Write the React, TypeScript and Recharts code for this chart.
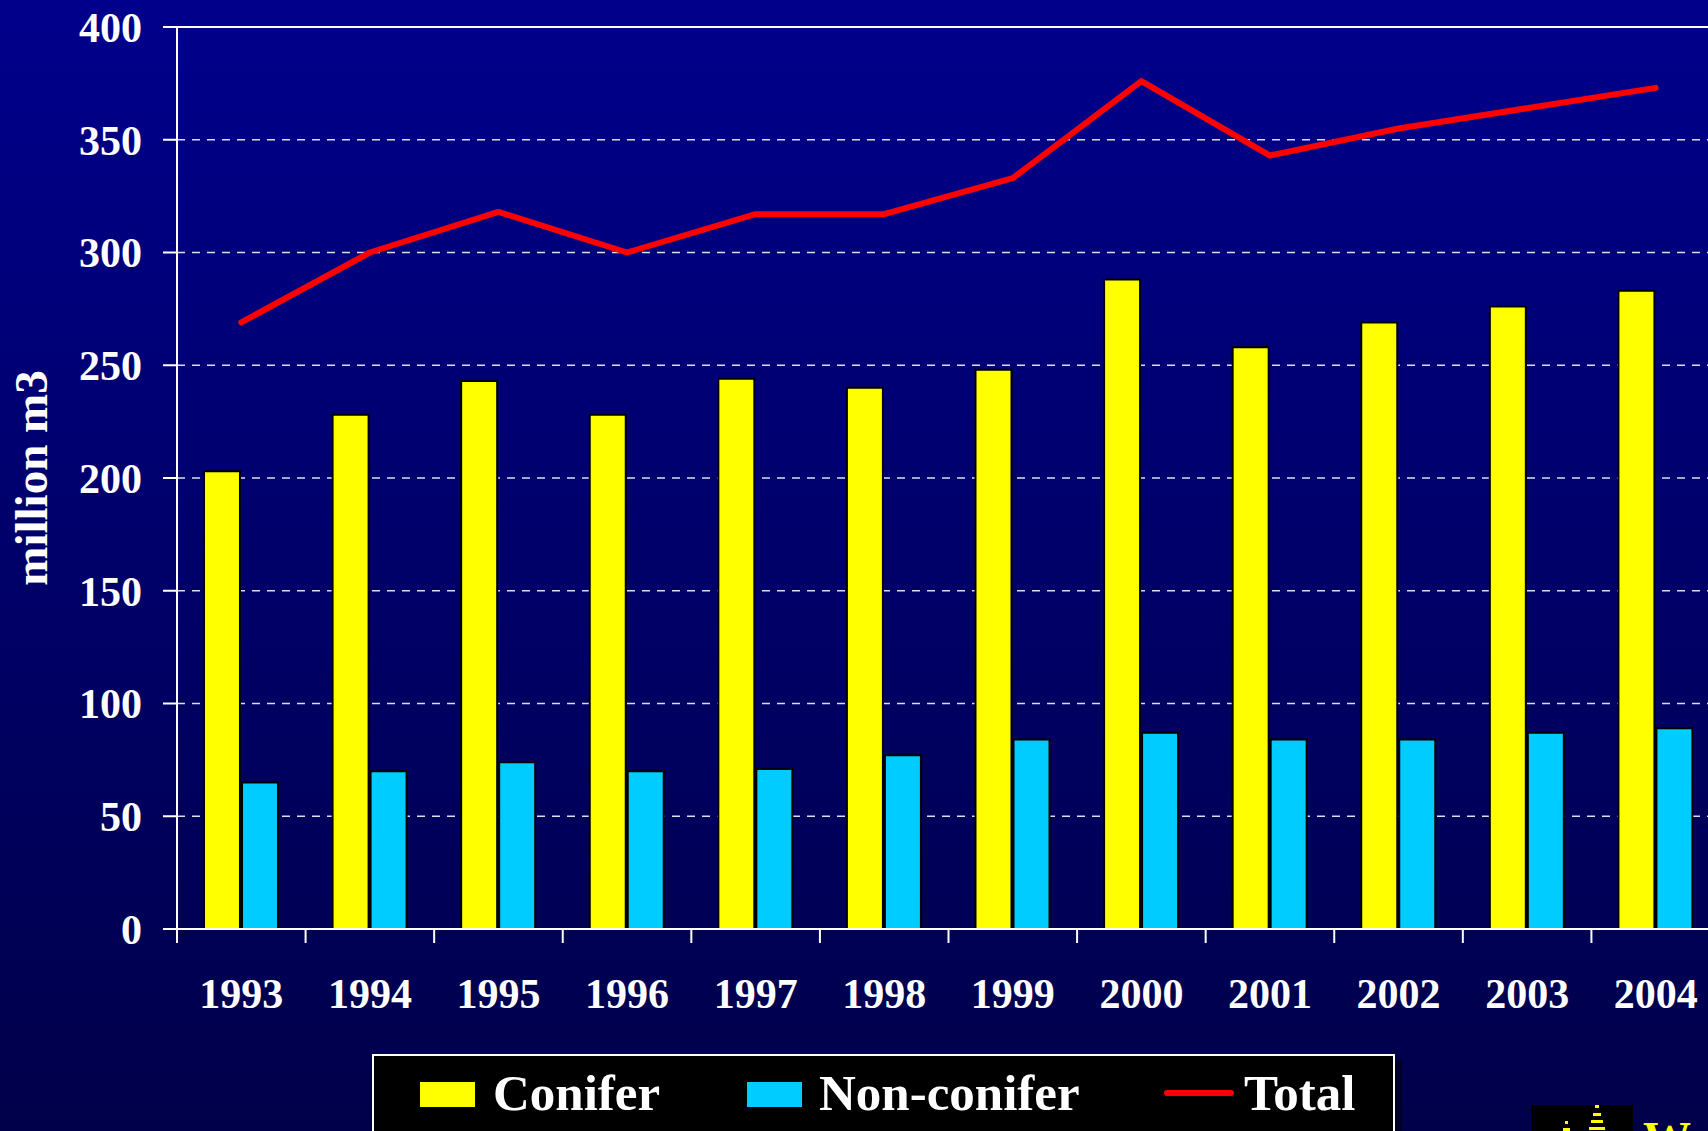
import React from 'react'
import { ComposedChart, Bar, Line, XAxis, YAxis, CartesianGrid, ReferenceLine } from 'recharts'

const years = ['1993', '1994', '1995', '1996', '1997', '1998', '1999', '2000', '2001', '2002', '2003', '2004']
const conifer = [203, 228, 243, 228, 244, 240, 248, 288, 258, 269, 276, 283]
const nonConifer = [65, 70, 74, 70, 71, 77, 84, 87, 84, 84, 87, 89]
const total = [269, 300, 318, 300, 317, 317, 333, 376, 343, 355, 364, 373]
const yTicks = [0, 50, 100, 150, 200, 250, 300, 350, 400]

const data = years.map((year, i) => ({
  year,
  conifer: conifer[i],
  nonConifer: nonConifer[i],
  total: total[i],
}))

const FONT = "'Liberation Serif', 'Times New Roman', serif"
const YELLOW = '#ffff00'
const CYAN = '#00ccff'
const RED = '#ff0000'

// plot geometry (the plot runs past the right edge of the slide, as in the original)
const CHART_W = 1740
const CHART_H = 1131
const Y_AXIS_W = 177
const MARGIN = { top: 27, right: 20, bottom: 0, left: 0 }
const BAND = (CHART_W - MARGIN.left - MARGIN.right - Y_AXIS_W) / years.length

const legendItems = [
  { label: 'Conifer', kind: 'box', color: YELLOW, swatchX: 46, textX: 119 },
  { label: 'Non-conifer', kind: 'box', color: CYAN, swatchX: 373, textX: 445 },
  { label: 'Total', kind: 'line', color: RED, swatchX: 793, textX: 870 },
]

function YearTick(props: any) {
  const { x, y, payload } = props
  const left = x - BAND / 2
  return (
    <g>
      <line x1={left} y1={y} x2={left} y2={y + 14} stroke="#ffffff" strokeWidth={2} />
      <text x={x} y={y + 79} textAnchor="middle" fill="#ffffff" fontFamily={FONT} fontWeight="bold" fontSize={42}>
        {payload.value}
      </text>
    </g>
  )
}

function LegendBox() {
  return (
    <div
      style={{
        position: 'absolute',
        left: 372,
        top: 1054,
        width: 1023,
        height: 90,
        boxSizing: 'border-box',
        background: '#000000',
        border: '2px solid #ffffff',
        borderBottom: 'none',
        boxShadow: '7px 5px 0 #00002a',
      }}
    >
      <svg width={1019} height={88}>
        {legendItems.map((item) => (
          <g key={item.label}>
            {item.kind === 'box' ? (
              <rect x={item.swatchX} y={26} width={55} height={25} fill={item.color} />
            ) : (
              <line x1={item.swatchX} y1={37} x2={item.swatchX + 64} y2={37} stroke={item.color} strokeWidth={6} strokeLinecap="round" />
            )}
            <text x={item.textX} y={54} fill="#ffffff" fontFamily={FONT} fontWeight="bold" fontSize={51}>
              {item.label}
            </text>
          </g>
        ))}
      </svg>
    </div>
  )
}

function Logo() {
  return (
    <svg style={{ position: 'absolute', left: 1531, top: 1105 }} width={177} height={26}>
      <rect x={0} y={0} width={102} height={26} fill="#000000" />
      <rect x={64} y={0} width={4} height={3} fill={YELLOW} />
      <rect x={62} y={8} width={8} height={3} fill={YELLOW} />
      <rect x={60} y={15} width={12} height={3} fill={YELLOW} />
      <rect x={58} y={22} width={16} height={3} fill={YELLOW} />
      <rect x={34} y={16} width={3} height={3} fill={YELLOW} />
      <rect x={32} y={23} width={7} height={3} fill={YELLOW} />
      <text x={112} y={50} fill={YELLOW} fontFamily={FONT} fontWeight="bold" fontSize={48}>W</text>
    </svg>
  )
}

export default function App() {
  return (
    <div
      style={{
        position: 'absolute',
        left: 0,
        top: 0,
        width: 1708,
        height: 1131,
        overflow: 'hidden',
        background: 'linear-gradient(to bottom, #00008c 0%, #000066 55%, #00004a 100%)',
      }}
    >
      <ComposedChart width={CHART_W} height={CHART_H} data={data} margin={MARGIN} barGap={2}>
        <CartesianGrid vertical={false} stroke="#dcdcf4" strokeDasharray="8 7" strokeWidth={1.5} />
        <XAxis
          dataKey="year"
          interval={0}
          height={CHART_H - 929}
          tickSize={0}
          tickMargin={0}
          tickLine={false}
          axisLine={{ stroke: '#ffffff', strokeWidth: 2 }}
          tick={<YearTick />}
        />
        <YAxis
          domain={[0, 400]}
          ticks={yTicks}
          interval={0}
          width={Y_AXIS_W}
          tickSize={14}
          tickMargin={21}
          axisLine={{ stroke: '#ffffff', strokeWidth: 2 }}
          tickLine={{ stroke: '#ffffff', strokeWidth: 2 }}
          tick={{ fill: '#ffffff', fontFamily: FONT, fontWeight: 'bold', fontSize: 42 }}
          label={{
            content: () => (
              <text
                transform="translate(47 478) rotate(-90)"
                textAnchor="middle"
                fill="#ffffff"
                fontFamily={FONT}
                fontWeight="bold"
                fontSize={47}
              >
                million m3
              </text>
            ),
          }}
        />
        <ReferenceLine y={400} stroke="#ffffff" strokeWidth={2} />
        <Bar dataKey="conifer" name="Conifer" fill={YELLOW} stroke="#000000" strokeWidth={2} barSize={36} isAnimationActive={false} />
        <Bar dataKey="nonConifer" name="Non-conifer" fill={CYAN} stroke="#000000" strokeWidth={2} barSize={36} isAnimationActive={false} />
        <Line
          dataKey="total"
          name="Total"
          type="linear"
          stroke={RED}
          strokeWidth={6}
          strokeLinecap="round"
          strokeLinejoin="round"
          dot={false}
          activeDot={false}
          isAnimationActive={false}
        />
      </ComposedChart>
      <LegendBox />
      <Logo />
    </div>
  )
}
